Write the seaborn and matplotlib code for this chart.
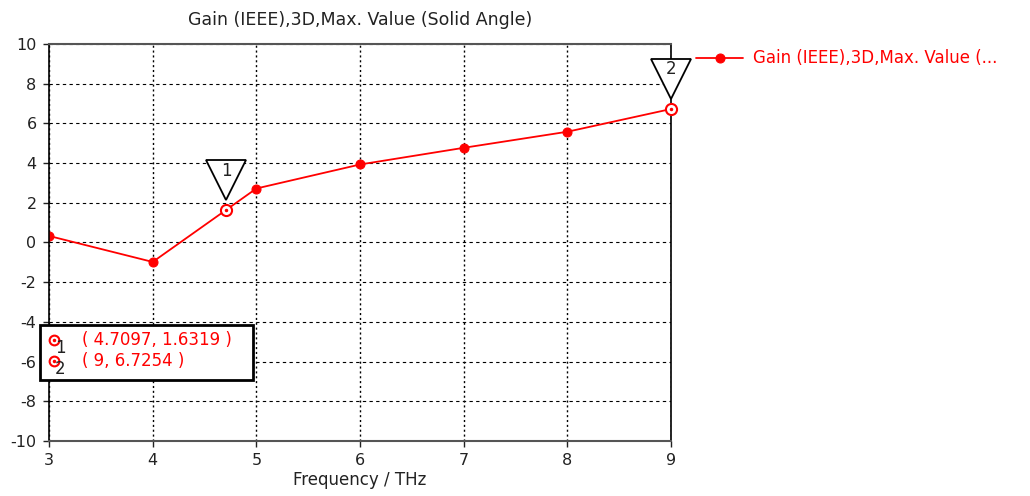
import matplotlib
matplotlib.use("Agg")
import matplotlib.pyplot as plt
import matplotlib.transforms as mtransforms
from matplotlib.patches import Rectangle
import seaborn as sns

# %% data
freq = [3, 4, 5, 6, 7, 8, 9]
gain = [0.33, -0.98, 2.72, 3.93, 4.77, 5.58, 6.7254]
mark_ids = ["1", "2"]
mark_x = [4.7097, 9]
mark_y = [1.6319, 6.7254]
series_label = "Gain (IEEE),3D,Max. Value (..."
title = "Gain (IEEE),3D,Max. Value (Solid Angle)"

# %% figure
sns.set_theme(style="ticks")
plt.rcParams["font.family"] = ["DejaVu Sans"]
plt.rcParams["axes.unicode_minus"] = False

fs = 12
fig = plt.figure(figsize=(10.3, 4.96), dpi=100)
ax = fig.add_axes([0.0476, 0.1109, 0.6039, 0.8004])

sns.lineplot(x=freq, y=gain, ax=ax, color="red", marker="o", markersize=6.5,
             markeredgecolor="red", linewidth=1.3, label=series_label)

ax.set_xlim(3, 9)
ax.set_ylim(-10, 10)
ax.set_xticks(freq)
ax.set_yticks(range(-10, 11, 2))
ax.tick_params(labelsize=11.5, length=4, width=1, colors="#222222", pad=5)
ax.yaxis.grid(True, color="black", linestyle=(0, (3, 3)), linewidth=0.8)
ax.xaxis.grid(True, color="black", linestyle=(0, (1.5, 2)), linewidth=1.0)
for side in ["left", "right"]:
    ax.spines[side].set_color("black")
    ax.spines[side].set_linewidth(1.2)
for side in ["top", "bottom"]:
    ax.spines[side].set_color("#555555")
    ax.spines[side].set_linewidth(1.5)

ax.set_title(title, fontsize=12.5, color="#222222", pad=14)
ax.set_xlabel("Frequency / THz", fontsize=fs, color="#222222", labelpad=2)

# marker points (open circles) and the numbered triangles
ax.plot(mark_x, mark_y, linestyle="none", marker="o", markersize=8,
        markerfacecolor="white", markeredgecolor="red", markeredgewidth=1.5,
        zorder=5, clip_on=False)
ax.plot(mark_x, mark_y, linestyle="none", marker=".", markersize=3,
        color="red", zorder=6, clip_on=False)
tri_tr = mtransforms.offset_copy(ax.transData, fig=fig, x=0, y=21.8, units="points")
ax.plot(mark_x, mark_y, linestyle="none", marker="v", markersize=29,
        markerfacecolor="white", markeredgecolor="black", markeredgewidth=1.3,
        transform=tri_tr, zorder=4, clip_on=False)
for mid, mx, my in zip(mark_ids, mark_x, mark_y):
    ax.annotate(mid, xy=(mx, my), xytext=(0, 28.5), textcoords="offset points",
                ha="center", va="center", fontsize=fs, color="#222222", zorder=7,
                annotation_clip=False)

# marker value box
fig.patches.append(Rectangle((40 / 1030, 1 - 380 / 496), 213 / 1030, 55 / 496,
                             transform=fig.transFigure, facecolor="white",
                             edgecolor="black", linewidth=2, zorder=10))
for i, (mid, mx, my) in enumerate(zip(mark_ids, mark_x, mark_y)):
    yy = 1 - (340 + i * 21) / 496
    fig.lines.append(plt.Line2D([54 / 1030], [yy], transform=fig.transFigure,
                                marker="o", markersize=7, markerfacecolor="white",
                                markeredgecolor="red", markeredgewidth=1.5, zorder=11))
    fig.lines.append(plt.Line2D([54 / 1030], [yy], transform=fig.transFigure,
                                marker=".", markersize=3, color="red", zorder=12))
    fig.text(55 / 1030, yy - 8 / 496, mid, fontsize=fs, color="#222222",
             ha="left", va="center", zorder=12)
    fig.text(82 / 1030, yy, f"( {mx:g}, {my:g} )", fontsize=fs, color="red",
             ha="left", va="center", zorder=12)

leg = ax.legend(loc="upper left", bbox_to_anchor=(1.03, 1.003), frameon=False,
                fontsize=fs, handlelength=2.8, handletextpad=0.6, labelcolor="red",
                borderaxespad=0)

fig.savefig("out.png", dpi=100)
